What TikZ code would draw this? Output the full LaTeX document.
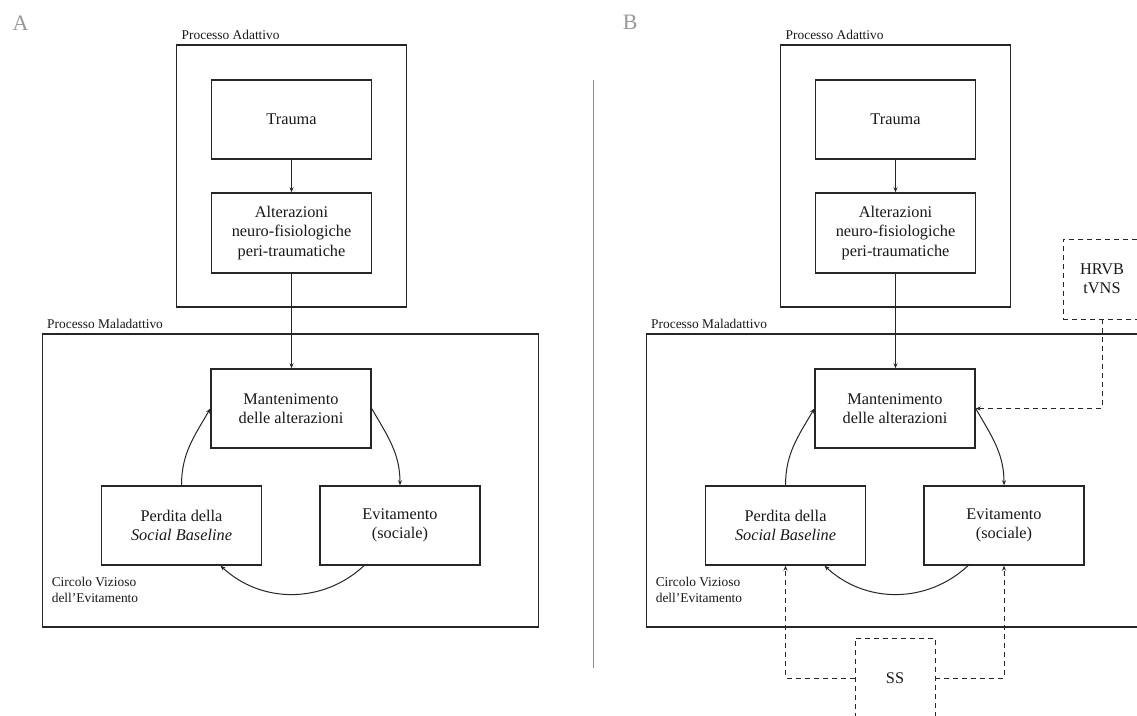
\documentclass[tikz,border=0pt]{standalone}
\usepackage{fontspec}
\setmainfont{Liberation Serif}
\usetikzlibrary{arrows.meta}
\tikzset{
  box/.style={draw=black!85, line width=1.4pt, minimum width=160pt, minimum height=79pt,
    align=center, inner sep=0pt, font=\fontsize{16.3}{19.5}\selectfont, text=black!90},
  frame/.style={draw=black!85, line width=1.4pt, inner sep=0pt},
  lbl/.style={anchor=base west, inner sep=0pt, font=\fontsize{13.4}{16}\selectfont,
    text=black!90, align=left},
  arr/.style={draw=black!85, line width=1pt, -{Stealth[length=5pt,width=4pt]}},
  darr/.style={arr, line width=0.9pt, dash pattern=on 5pt off 4pt},
  dbox/.style={box, dash pattern=on 5pt off 4pt, line width=0.9pt,
    minimum width=78pt, minimum height=80pt},
  panelletter/.style={anchor=base west, inner sep=0pt,
    font=\fontsize{22}{26}\selectfont, text=black!40}
}
\newcommand\drawpanel[1]{%
  \node[frame, minimum width=229.8pt, minimum height=262pt] (#1adatt) at (291.6,176) {};
  \node[lbl] (#1adattlbl) at (181.5,39) {Processo Adattivo};
  \node[box] (#1trauma) at (291.5,119.5) {Trauma};
  \node[box, minimum height=80pt] (#1alter) at (291.5,233) {Alterazioni\\neuro-fisiologiche\\peri-traumatiche};
  \node[frame, minimum width=495.7pt, minimum height=293pt] (#1malad) at (290.55,480.5) {};
  \node[lbl] (#1maladlbl) at (47,328.5) {Processo Maladattivo};
  \node[box] (#1mant) at (291,408.5) {Mantenimento\\delle alterazioni};
  \node[box] (#1perd) at (181.5,525.5) {Perdita della\\\textit{Social Baseline}};
  \node[box] (#1evit) at (400,525.5) {Evitamento\\(sociale)};
  \node[lbl] (#1circ) at (51.6,602.5) {Circolo Vizioso\\dell’Evitamento};
  \draw[arr] (#1trauma.south) -- (#1trauma.south |- #1alter.north);
  \draw[arr] (#1alter.south) -- (#1alter.south |- #1mant.north);
  \draw[arr] (#1perd.north) to[out=90,in=240] (#1mant.west);
  \draw[arr] (#1mant.east) to[out=-60,in=90] (#1evit.north);
  \draw[arr] ([xshift=-36pt]#1evit.south) to[out=-137,in=-43] ([xshift=39pt]#1perd.south);
}
\begin{document}
\begin{tikzpicture}[x=1pt,y=-1pt]
  \useasboundingbox (0,0) rectangle (1137,715);
  \clip (0,0) rectangle (1137,715);
  \fill[white] (0,0) rectangle (1137,715);
  \node[panelletter] (letA) at (12.5,30) {A};
  \node[panelletter] (letB) at (622.7,29) {B};
  \coordinate (divtop) at (593,80);
  \coordinate (divbot) at (593,668);
  \draw[black!45, line width=0.8pt] (divtop) -- (divbot);
  \begin{scope}
    \drawpanel{A}
  \end{scope}
  \begin{scope}[xshift=604pt]
    \drawpanel{B}
  \end{scope}
  \node[dbox] (hrvb) at (1102,279) {HRVB\\tVNS};
  \node[dbox, minimum width=80pt] (ss) at (895,678) {SS};
  \draw[darr] (hrvb.south) |- (Bmant.east);
  \draw[darr] (ss.west) -| (Bperd.south);
  \draw[darr] (ss.east) -| (Bevit.south);
\end{tikzpicture}
\end{document}
